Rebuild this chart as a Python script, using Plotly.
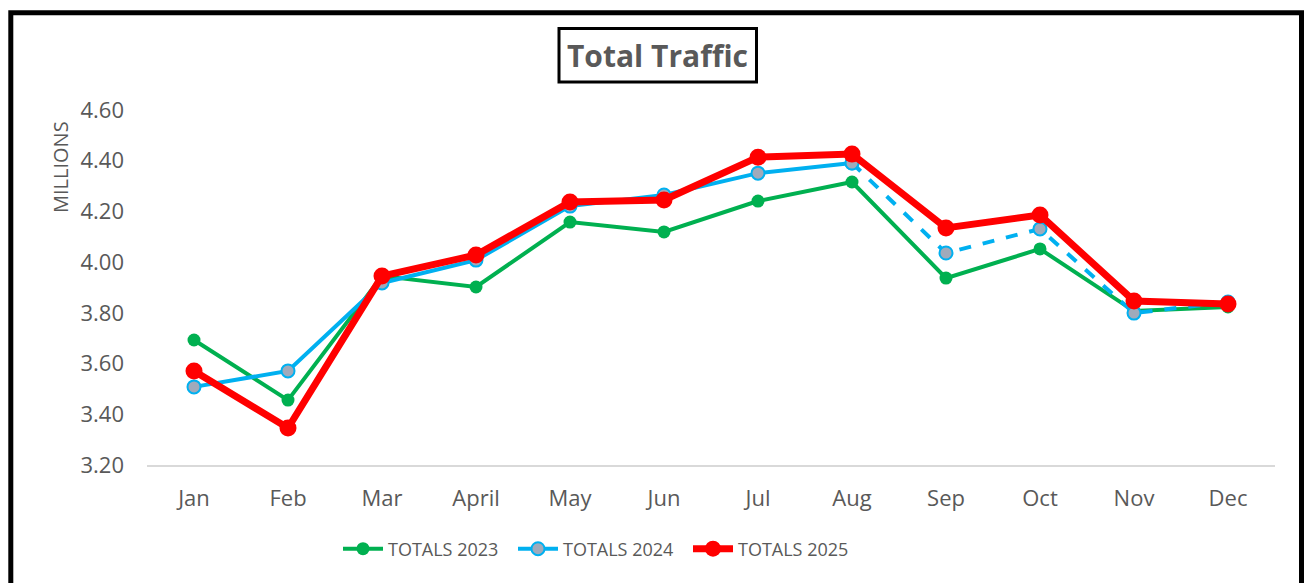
import plotly.graph_objects as go

months = ["Jan", "Feb", "Mar", "April", "May", "Jun", "Jul", "Aug", "Sep", "Oct", "Nov", "Dec"]
totals_2023 = [3.693, 3.456, 3.945, 3.902, 4.158, 4.119, 4.241, 4.316, 3.937, 4.052, 3.807, 3.823]
totals_2024 = [3.508, 3.571, 3.918, 4.008, 4.221, 4.265, 4.351, 4.391, 4.036, 4.131, 3.799, 3.843]
totals_2025 = [3.571, 3.346, 3.945, 4.028, 4.237, 4.245, 4.414, 4.426, 4.135, 4.186, 3.847, 3.835]
y_ticks = [3.2, 3.4, 3.6, 3.8, 4.0, 4.2, 4.4, 4.6]
dash_start = 7  # 2024 line dashed from Aug onward

GREEN = "#00B050"
BLUE = "#00B0F0"
RED = "#FF0000"
GRAY_FILL = "#A0AABB"
TXT = "#595959"
FONT = "Open Sans"

W, H = 1305, 583
# plot area in screen pixels
SX0, SX1, SY0, SY1 = 147, 1275, 110, 465
L, R, T, B = SX0, W - SX1, SY0, H - SY1
PW, PH = SX1 - SX0, SY1 - SY0


def px(x):
    return (x - SX0) / PW


def py(y):
    return (SY1 - y) / PH


fig = go.Figure()

fig.add_trace(go.Scatter(
    x=months, y=totals_2023, name="TOTALS 2023", mode="lines+markers",
    line=dict(color=GREEN, width=4),
    marker=dict(color=GREEN, size=13, line=dict(width=0)),
))
fig.add_trace(go.Scatter(
    x=months[:dash_start + 1], y=totals_2024[:dash_start + 1], name="TOTALS 2024",
    mode="lines+markers", legendgroup="2024",
    line=dict(color=BLUE, width=4),
    marker=dict(color=GRAY_FILL, size=13, line=dict(color=BLUE, width=2)),
))
fig.add_trace(go.Scatter(
    x=months[dash_start:], y=totals_2024[dash_start:], name="TOTALS 2024",
    mode="lines+markers", legendgroup="2024", showlegend=False,
    line=dict(color=BLUE, width=4, dash="dash"),
    marker=dict(color=GRAY_FILL, size=13, line=dict(color=BLUE, width=2)),
))
fig.add_trace(go.Scatter(
    x=months, y=totals_2025, name="TOTALS 2025", mode="lines+markers",
    line=dict(color=RED, width=7),
    marker=dict(color=RED, size=17, line=dict(width=0)),
))

shapes = [
    # outer frame
    dict(type="rect", xref="paper", yref="paper",
         x0=px(10.8), x1=px(1301.5), y0=py(600), y1=py(12.8),
         line=dict(color="black", width=5), fillcolor="rgba(0,0,0,0)", layer="below"),
    # title box
    dict(type="rect", xref="paper", yref="paper",
         x0=px(559), x1=px(756.5), y0=py(82), y1=py(28.5),
         line=dict(color="black", width=3), fillcolor="white", layer="below"),
]

annotations = [
    dict(text="<b>Total Traffic</b>", xref="paper", yref="paper",
         x=px(657.5), y=py(56), xanchor="center", yanchor="middle",
         showarrow=False, font=dict(family=FONT, size=30, color=TXT)),
    dict(text="MILLIONS", xref="paper", yref="paper",
         x=px(60), y=py(167), xanchor="center", yanchor="middle", textangle=-90,
         showarrow=False, font=dict(family=FONT, size=20, color=TXT)),
]

fig.update_layout(
    width=W, height=H,
    margin=dict(l=L, r=R, t=T, b=B, pad=0),
    paper_bgcolor="white", plot_bgcolor="white",
    font=dict(family=FONT, color=TXT),
    showlegend=True,
    legend=dict(orientation="h", x=px(338), y=py(549), xanchor="left", yanchor="middle",
                font=dict(family=FONT, size=18, color=TXT),
                entrywidth=120, entrywidthmode="pixels", itemwidth=40,
                bgcolor="rgba(0,0,0,0)"),
    shapes=shapes,
    annotations=annotations,
    xaxis=dict(type="category", categoryorder="array", categoryarray=months,
               range=[-0.5, len(months) - 0.5], showgrid=False, zeroline=False,
               showline=True, linecolor="#D9D9D9", linewidth=2,
               ticks="", ticklabelstandoff=13,
               tickfont=dict(family=FONT, size=22, color=TXT)),
    yaxis=dict(range=[y_ticks[0], y_ticks[-1]], tickvals=y_ticks,
               ticktext=[f"{v:.2f}" for v in y_ticks],
               showgrid=False, zeroline=False, showline=False, ticks="",
               ticklabelstandoff=22,
               tickfont=dict(family=FONT, size=22, color=TXT)),
)

fig.write_html(
    "out.html",
    config={"displayModeBar": False},
    post_script="document.body.style.margin='0';document.body.style.overflow='hidden';",
)
